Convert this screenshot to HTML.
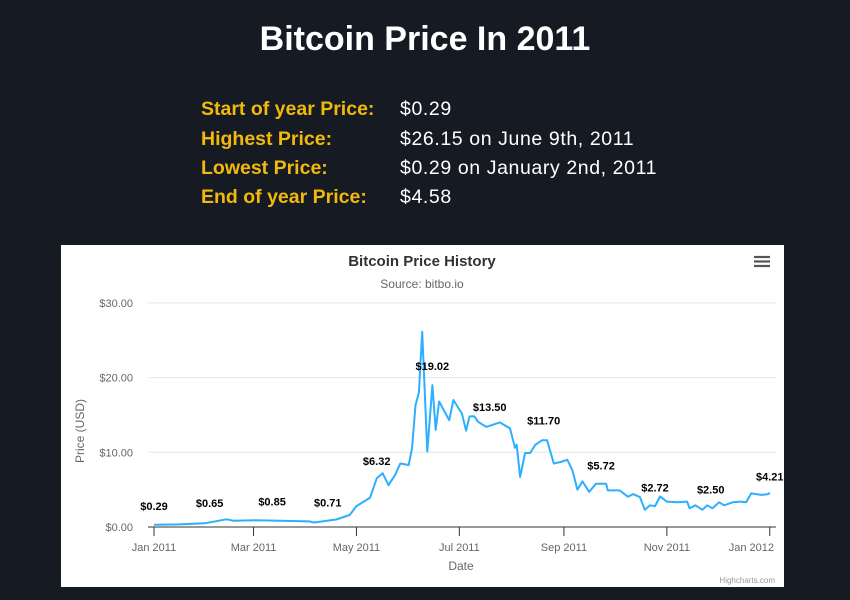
<!DOCTYPE html>
<html><head><meta charset="utf-8"><style>
body{margin:0;width:850px;height:600px;background:#161a23;font-family:"Liberation Sans",sans-serif;overflow:hidden;position:relative}
#title{position:absolute;left:0;width:850px;top:20px;text-align:center;color:#fff;font-size:34px;font-weight:bold}
.row{position:absolute;left:201px;font-size:19.5px;font-weight:bold}
.row .k{color:#f0b90b;position:absolute;left:0;white-space:nowrap}
.row .v{color:#fff;position:absolute;left:199px;white-space:nowrap;font-weight:normal;letter-spacing:0.6px}
#chart{position:absolute;left:61px;top:245px;width:723px;height:342px;background:#fff}
</style></head><body>
<div id="title">Bitcoin Price In 2011</div>
<div class="row" style="top:98px"><span class="k">Start of year Price:</span><span class="v">$0.29</span></div>
<div class="row" style="top:128px"><span class="k">Highest Price:</span><span class="v">$26.15 on June 9th, 2011</span></div>
<div class="row" style="top:157px"><span class="k">Lowest Price:</span><span class="v">$0.29 on January 2nd, 2011</span></div>
<div class="row" style="top:186px"><span class="k">End of year Price:</span><span class="v">$4.58</span></div>
<div id="chart">
<svg id="svg" width="723" height="342" xmlns="http://www.w3.org/2000/svg" font-family="Liberation Sans, sans-serif">
<text x="361" y="21" text-anchor="middle" font-size="15" font-weight="bold" fill="#333">Bitcoin Price History</text>
<text x="361" y="43" text-anchor="middle" font-size="12" fill="#666">Source: bitbo.io</text>
<g stroke="#555" stroke-width="2.2"><line x1="693" y1="12" x2="709" y2="12"/><line x1="693" y1="16.5" x2="709" y2="16.5"/><line x1="693" y1="21" x2="709" y2="21"/></g>
<text x="23" y="186" transform="rotate(-90 23 186)" text-anchor="middle" font-size="12" fill="#666">Price (USD)</text>
<text x="400" y="325" text-anchor="middle" font-size="12" fill="#666">Date</text>
<text x="714" y="338" text-anchor="end" font-size="8" fill="#999">Highcharts.com</text>
<g id="grid"></g><g id="xaxis"></g><g id="series"></g><g id="labels"></g>
</svg></div>
<script>
const yTicks=[0,10,20,30];
const yTickLabels=["$0.00","$10.00","$20.00","$30.00"];
const xTickDays=[0,59,120,181,243,304,365];
const xTickLabels=["Jan 2011","Mar 2011","May 2011","Jul 2011","Sep 2011","Nov 2011","Jan 2012"];
const days=[0,15,30,43,47,60,75,92,95,108,116,120,128,132,135.5,139,143,146,151,153,155,157,159,162,165,167,169,175,177.5,182.5,185,187,190,192,197,205,211,214,215,217,220,223,226,230,233,237,241,245,248,251,254,258,262,268,269,276,281,284,288,291,294,297,300,304,310,316,317.5,321,325,328,331,335,338,343,348,351,354,360,364,365];
const prices=[0.29,0.35,0.5,1.03,0.85,0.9,0.85,0.75,0.6,1.0,1.6,2.8,3.9,6.5,7.2,5.6,7.0,8.5,8.3,10.6,16.3,18,26.15,10.1,19.0,13,16.8,14.3,17,15.2,12.9,14.8,14.8,14.1,13.4,14,13.2,10.6,11,6.7,9.9,9.9,11,11.6,11.6,8.5,8.7,9,7.6,5.0,6.1,4.7,5.8,5.8,4.9,4.9,4.05,4.4,4.0,2.3,2.9,2.8,4.1,3.4,3.3,3.4,2.5,2.9,2.3,2.9,2.5,3.3,2.9,3.3,3.4,3.3,4.5,4.3,4.4,4.58];
const labelDays=[0,33,70,103,132,165,199,231,265,297,330,365];
const labelValues=[0.29,0.65,0.85,0.71,6.32,19.02,13.50,11.70,5.72,2.72,2.50,4.21];
const NS="http://www.w3.org/2000/svg";
const X=d=>93+d*1.687, Y=v=>282-v*7.47;
function mk(t,a,p){const e=document.createElementNS(NS,t);for(const k in a)e.setAttribute(k,a[k]);p.appendChild(e);return e;}
const grid=document.getElementById('grid');
yTicks.forEach((v,i)=>{
 const l=mk('line',{x1:87,x2:715,y1:Y(v),y2:Y(v),stroke:i==0?'#333':'#e6e6e6','stroke-width':1},grid);
 
 
 const t=mk('text',{x:72,y:Y(v)+4,'text-anchor':'end','font-size':11,fill:'#666'},grid);t.textContent=yTickLabels[i];
 
 
});
const xa=document.getElementById('xaxis');
xTickDays.forEach((d,i)=>{
 const l=mk('line',{x1:X(d),x2:X(d),y1:Y(0),y2:Y(0)+9,stroke:'#333'},xa);
 
 
 const last=i==xTickDays.length-1;
 const t=mk('text',{x:last?713:X(d),y:306,'text-anchor':last?'end':'middle','font-size':11,fill:'#666'},xa);t.textContent=xTickLabels[i];
 
 
});
const p=mk('path',{d:days.map((d,i)=>(i?'L':'M')+X(d).toFixed(1)+','+Y(prices[i]).toFixed(1)).join(''),fill:'none',stroke:'#2caffe','stroke-width':2,'stroke-linejoin':'round'},document.getElementById('series'));


const lg=document.getElementById('labels');
labelDays.forEach((d,i)=>{
 const t=mk('text',{x:X(d),y:Y(labelValues[i])-15,'text-anchor':'middle','font-size':11,'font-weight':'bold',fill:'#000'},lg);
 t.textContent='$'+labelValues[i].toFixed(2);
 
 
});
</script>
</body></html>
